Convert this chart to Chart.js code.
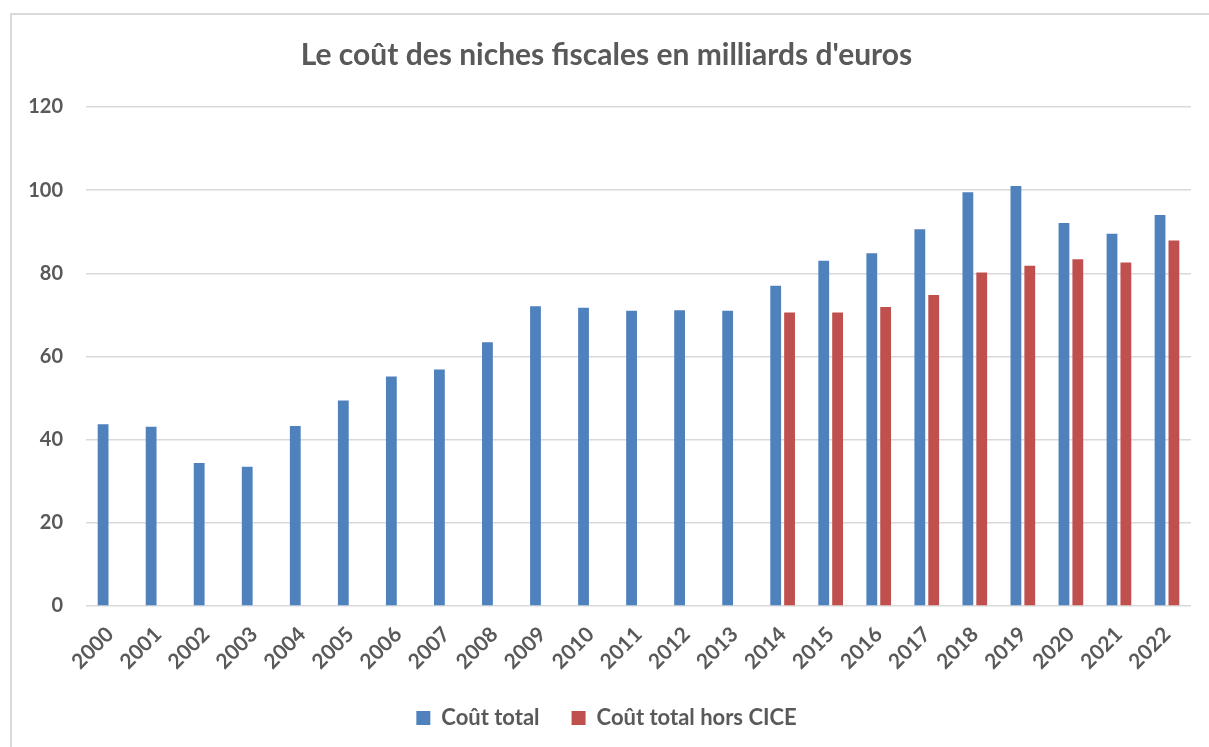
<!doctype html>
<html>
    <head>
        <title>Niches fiscales</title>
        <meta charset="utf-8">
        <script src="https://cdn.jsdelivr.net/npm/chart.js@4.4.1/dist/chart.umd.min.js"></script>
        <style>
            body { margin: 0; overflow: hidden; background: #fff; }
            #frame { position: absolute; left: 10px; top: 13px; width: 1300px; height: 800px; border: 2px solid #d9d9d9; }
            #costChart { position: absolute; left: 0; top: 0; }
        </style>
    </head>
    <body>
        <div id="frame"></div>
        <canvas id="costChart" width="1209" height="747"></canvas>

        <script>
            var years = ['2000', '2001', '2002', '2003', '2004', '2005', '2006', '2007', '2008', '2009', '2010', '2011',
                         '2012', '2013', '2014', '2015', '2016', '2017', '2018', '2019', '2020', '2021', '2022'];
            var coutTotal = [43.7, 43.1, 34.4, 33.5, 43.3, 49.4, 55.2, 56.9, 63.4, 72.1, 71.7, 71.0,
                             71.1, 71.0, 77.0, 83.0, 84.8, 90.6, 99.5, 101.0, 92.1, 89.5, 94.0];
            var coutHorsCice = [null, null, null, null, null, null, null, null, null, null, null, null,
                                null, null, 70.6, 70.6, 71.9, 74.8, 80.2, 81.8, 83.4, 82.6, 87.9];
            var yTicks = [0, 20, 40, 60, 80, 100, 120];

            var grey = '#595959';

            var ctx = document.getElementById('costChart').getContext('2d');
            var chart = new Chart(ctx, {
                type: 'bar',
                data: {
                    labels: years,
                    datasets: [{
                        label: 'Coût total',
                        data: coutTotal,
                        backgroundColor: '#4f81bd',
                        categoryPercentage: 0.577,
                        barPercentage: 0.78
                    }, {
                        label: 'Coût total hors CICE',
                        data: coutHorsCice,
                        backgroundColor: '#c0504d',
                        categoryPercentage: 0.577,
                        barPercentage: 0.78
                    }]
                },
                options: {
                    responsive: false,
                    animation: false,
                    layout: { padding: { left: 22, right: 18, top: 0, bottom: 8 } },
                    plugins: {
                        title: {
                            display: true,
                            text: "Le coût des niches fiscales en milliards d'euros",
                            color: grey,
                            font: { family: 'Lato', size: 30, weight: 'bold' },
                            padding: { top: 37, bottom: 34 }
                        },
                        legend: {
                            position: 'bottom',
                            labels: {
                                color: grey,
                                boxWidth: 14,
                                boxHeight: 14,
                                padding: 32,
                                font: { family: 'Lato', size: 22, weight: 'bold' }
                            }
                        },
                        tooltip: { enabled: false }
                    },
                    scales: {
                        y: {
                            min: 0,
                            max: 120,
                            afterBuildTicks: function (scale) {
                                scale.ticks = yTicks.map(function (v) { return { value: v }; });
                            },
                            afterFit: function (scale) { scale.width = 64; },
                            ticks: {
                                color: grey,
                                padding: 23,
                                font: { family: 'Lato', size: 20, weight: 'bold' }
                            },
                            grid: { color: '#d9d9d9', lineWidth: 1.5, drawTicks: false },
                            border: { display: false }
                        },
                        x: {
                            afterFit: function (scale) { scale.height = 69; },
                            ticks: {
                                color: grey,
                                minRotation: 45,
                                maxRotation: 45,
                                padding: 8,
                                font: { family: 'Lato', size: 21, weight: 'bold' }
                            },
                            grid: { display: false },
                            border: { display: false }
                        }
                    }
                }
            });
        </script>
    </body>
</html>
